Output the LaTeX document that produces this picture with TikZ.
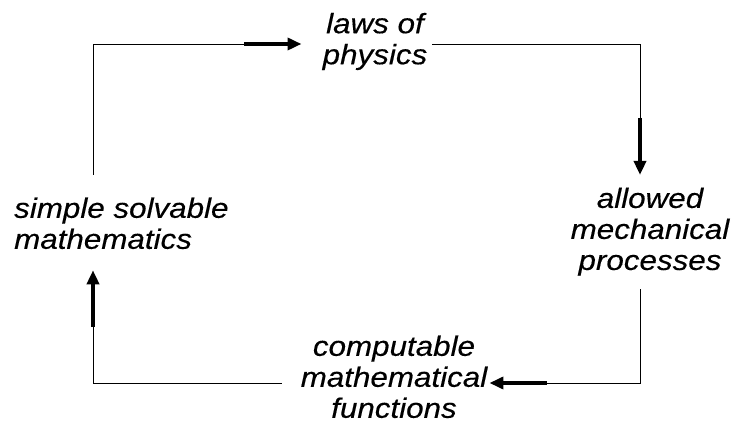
\documentclass[tikz,border=0pt]{standalone}
\usepackage{fontspec}
\setmainfont{Liberation Sans}[FakeStretch=1.12,FakeBold=0.3]
\usetikzlibrary{arrows.meta}
\tikzset{
  label/.style={inner sep=0pt, align=center, font=\fontsize{28}{31}\selectfont\itshape},
  line/.style={line width=0.9pt, line cap=rect},
  bigarrow/.style={line width=4.6pt, -{Triangle[length=14pt,width=12pt]}},
}
\begin{document}
\begin{tikzpicture}[x=1pt,y=1pt]
\useasboundingbox (0,0) rectangle (734,423);
% text nodes
\node[label] (laws) at (375,381.5) {laws of\\physics};
\node[label] (allowed) at (650,191.3) {allowed\\mechanical\\processes};
\node[label] (comp) at (394,46.2) {computable\\mathematical\\functions};
\node[label, align=left, anchor=west] (simple) at (14,199.7) {simple solvable\\mathematics};
% corners
\coordinate (tl) at (93,379);
\coordinate (tr) at (640,379);
\coordinate (br) at (640,40);
\coordinate (bl) at (93,40);
% arrow starts
\coordinate (a1) at (244,379);
\coordinate (a2) at (640,305);
\coordinate (a3) at (547,40);
\coordinate (a4) at (93,96);
% connector: simple -> laws
\draw[line] ([yshift=22.5pt]tl |- simple.north) -- (tl) -- (a1);
\draw[bigarrow] (a1) -- ([xshift=-21pt]laws.west |- tl);
% connector: laws -> allowed
\draw[line] ([xshift=5pt]laws.east |- tr) -- (tr) -- (a2);
\draw[bigarrow] (a2) -- ([yshift=12.5pt]allowed.north -| tr);
% connector: allowed -> comp
\draw[line] ([yshift=-14pt]allowed.south -| br) -- (br) -- (a3);
\draw[bigarrow] (a3) -- ([xshift=2pt]comp.east |- br);
% connector: comp -> simple
\draw[line] ([xshift=-19pt]comp.west |- bl) -- (bl) -- (a4);
\draw[bigarrow] (a4) -- ([yshift=-21pt]simple.south -| bl);
\end{tikzpicture}
\end{document}
